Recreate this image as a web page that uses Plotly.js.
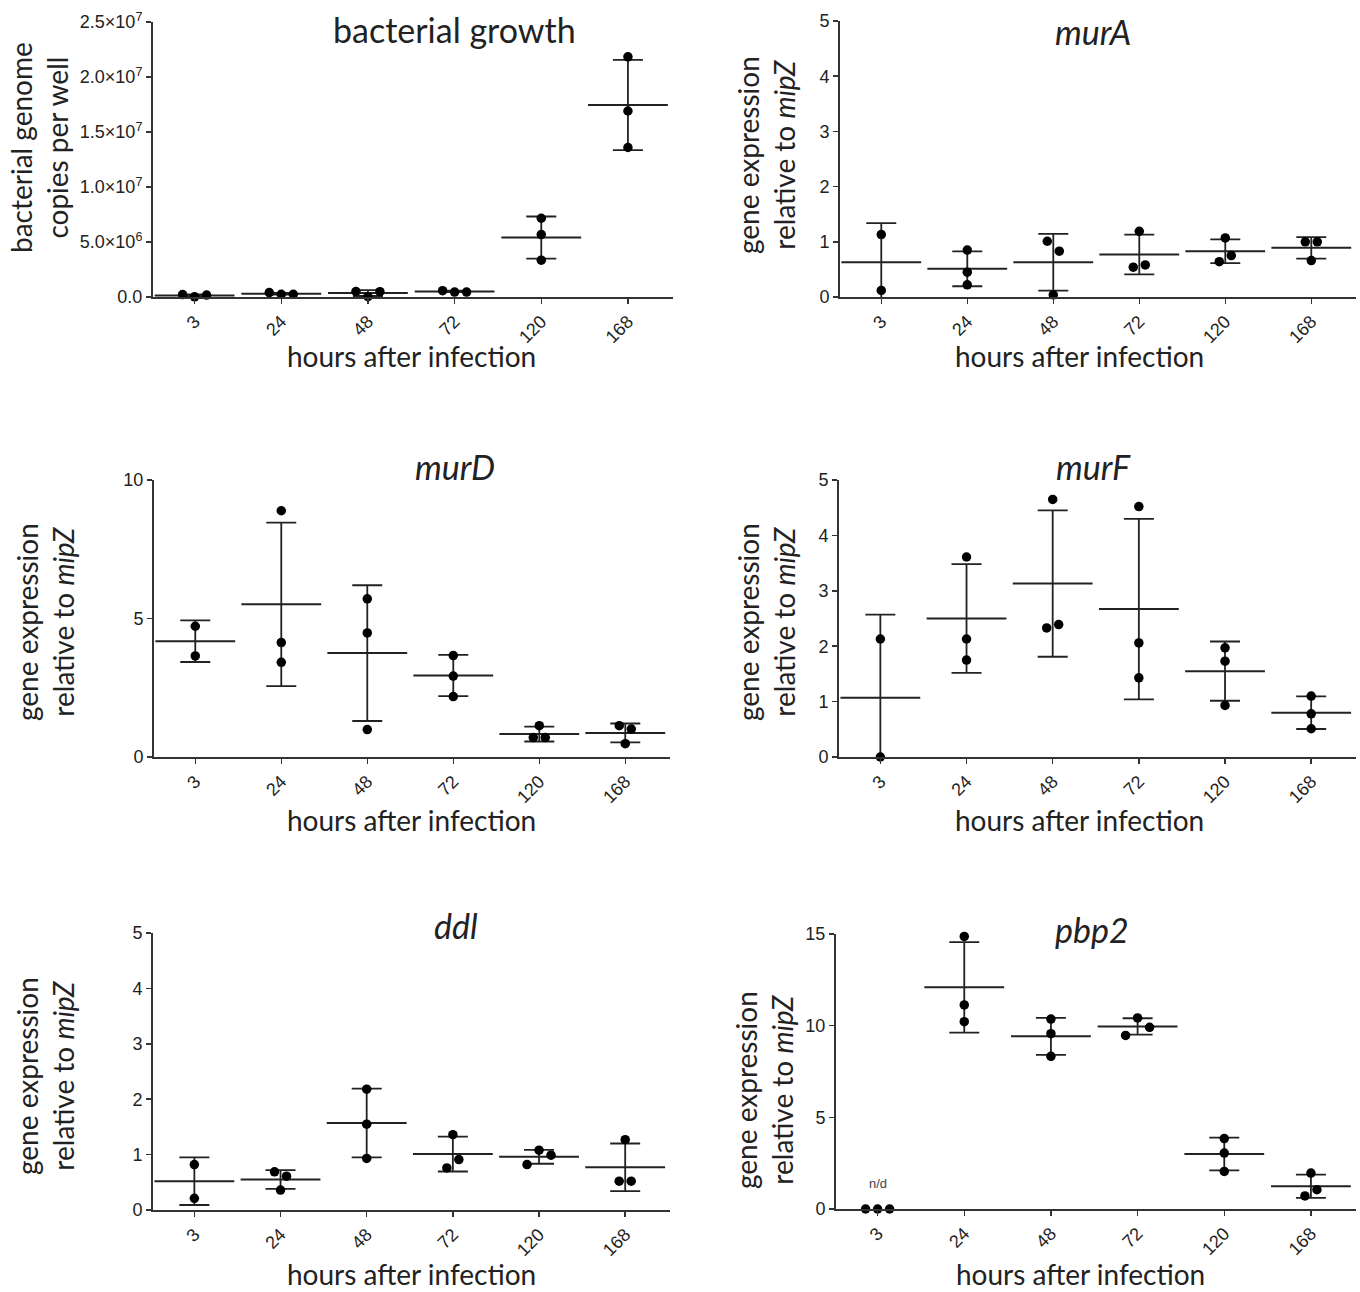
<!DOCTYPE html>
<html><head><meta charset="utf-8">
<script src="https://cdn.plot.ly/plotly-3.0.1.min.js"></script>
<style>html,body{margin:0;padding:0;background:#fff}#chart{width:1360px;height:1292px}</style>
</head><body><div id="chart"></div>
<script>
// ---------- data ----------
const hours = ['3','24','48','72','120','168'];

const growthPoints = [[2.2e5,0.2e5,1.8e5],[4.0e5,2.5e5,2.5e5],[5.0e5,0.3e5,4.8e5],[5.7e5,4.5e5,4.5e5],[7.16e6,5.68e6,3.35e6],[2.183e7,1.691e7,1.359e7]];
const growthMean = [1.4e5,3.0e5,3.6e5,5.1e5,5.4e6,1.745e7];
const growthSD   = [1.0e5,0.8e5,2.7e5,0.7e5,1.92e6,4.1e6];
const growthTicks = [0,5e6,1e7,1.5e7,2e7,2.5e7];
const growthTickText = ['0.0','5.0×10<sup>6</sup>','1.0×10<sup>7</sup>','1.5×10<sup>7</sup>','2.0×10<sup>7</sup>','2.5×10<sup>7</sup>'];

const murAPoints = [[1.13,0.12],[0.85,0.45,0.22],[1.01,0.83,0.04],[1.19,0.54,0.58],[1.07,0.64,0.75],[1.0,1.0,0.66]];
const murAMean = [0.63,0.51,0.63,0.77,0.83,0.89];
const murASD   = [0.71,0.315,0.515,0.36,0.215,0.195];

const murDPoints = [[4.72,3.65],[8.89,4.13,3.42],[5.71,4.48,0.99],[3.66,2.92,2.18],[1.13,0.70,0.70],[1.13,1.01,0.48]];
const murDMean = [4.18,5.51,3.75,2.94,0.83,0.87];
const murDSD   = [0.75,2.95,2.45,0.745,0.27,0.34];

const murFPoints = [[2.13,0.0],[3.61,2.13,1.75],[4.65,2.33,2.39],[4.52,2.06,1.43],[1.97,1.73,0.93],[1.10,0.78,0.51]];
const murFMean = [1.07,2.50,3.13,2.67,1.55,0.80];
const murFSD   = [1.5,0.98,1.32,1.63,0.535,0.295];

const ddlPoints = [[0.82,0.21],[0.69,0.61,0.36],[2.18,1.55,0.93],[1.36,0.76,0.91],[0.82,1.08,0.99],[1.27,0.52,0.52]];
const ddlMean = [0.52,0.55,1.57,1.01,0.96,0.77];
const ddlSD   = [0.43,0.17,0.62,0.315,0.125,0.43];

const pbp2Points = [[0,0,0],[14.87,11.13,10.22],[10.36,9.56,8.33],[9.47,10.42,9.91],[3.84,3.05,2.05],[1.96,0.71,1.05]];
const pbp2Mean = [null,12.09,9.42,9.96,3.0,1.24];
const pbp2SD   = [null,2.47,1.01,0.445,0.89,0.635];

const geneTicks5 = [0,1,2,3,4,5];
const geneTicks10 = [0,5,10];
const geneTicks15 = [0,5,10,15];

// ---------- layout ----------
const W = 1360, H = 1292;
const INK = '#222';
const TITLE_FONT = 'Lato, "Open Sans", sans-serif';
const TICK_FONT = '"Liberation Sans", Arial, sans-serif';
const geneY = ['gene expression','relative to <i>mipZ</i>'];

const panels = [
  {title:'bacterial growth', italic:false, pts:growthPoints, mean:growthMean, sd:growthSD, yr:[0,2.5e7], yt:growthTicks, ytt:growthTickText,
   box:[153,673,22,297], tpos:[455,29], ylab:['bacterial genome','copies per well'], ypos:[39,148], xpos:[411,356]},
  {title:'murA', italic:true, pts:murAPoints, mean:murAMean, sd:murASD, yr:[0,5], yt:geneTicks5, ytt:geneTicks5.map(String),
   box:[840,1356,21,297], tpos:[1093,32], ylab:geneY, ypos:[766,155], xpos:[1079,356]},
  {title:'murD', italic:true, pts:murDPoints, mean:murDMean, sd:murDSD, yr:[0,10], yt:geneTicks10, ytt:geneTicks10.map(String),
   box:[154,670,480,757], tpos:[455,467], ylab:geneY, ypos:[45,622], xpos:[411,820]},
  {title:'murF', italic:true, pts:murFPoints, mean:murFMean, sd:murFSD, yr:[0,5], yt:geneTicks5, ytt:geneTicks5.map(String),
   box:[839,1356,480,757], tpos:[1093,467], ylab:geneY, ypos:[766,622], xpos:[1079,820]},
  {title:'ddl', italic:true, pts:ddlPoints, mean:ddlMean, sd:ddlSD, yr:[0,5], yt:geneTicks5, ytt:geneTicks5.map(String),
   box:[153,670,933,1210], tpos:[456,925], ylab:geneY, ypos:[45,1076], xpos:[411,1274]},
  {title:'pbp2', italic:true, pts:pbp2Points, mean:pbp2Mean, sd:pbp2SD, yr:[0,15], yt:geneTicks15, ytt:geneTicks15.map(String),
   box:[836,1356,934,1209], tpos:[1092,929], ylab:geneY, ypos:[764,1090], xpos:[1080,1274], note:{cat:0, text:'n/d', y:1183}}
];

const XR = [-0.48, 5.52];
const THR = 11;   // px: points closer than this are spread sideways
const GAP = 12;   // px between side-by-side points

function spread(vals, pxPerUnit, step) {
  const idx = vals.map((v,i)=>i).sort((a,b)=>vals[b]-vals[a]);
  const clusters = []; let cur = [idx[0]];
  for (let k=1;k<idx.length;k++){
    if ((vals[idx[k-1]]-vals[idx[k]])*pxPerUnit < THR) cur.push(idx[k]);
    else { clusters.push(cur); cur=[idx[k]]; }
  }
  clusters.push(cur);
  const off = new Array(vals.length).fill(0);
  clusters.forEach(c=>{ c.sort((a,b)=>a-b); c.forEach((i,j)=>{ off[i]=(j-(c.length-1)/2)*step; }); });
  return off;
}

const data = [];
const layout = {width:W, height:H, margin:{l:0,r:0,t:0,b:0}, paper_bgcolor:'#fff', plot_bgcolor:'rgba(0,0,0,0)',
  showlegend:false, annotations:[]};
const px = (x)=>x/W, py = (y)=>1-y/H;

panels.forEach((p,k)=>{
  const n = k===0 ? '' : String(k+1);
  const xa = 'x'+n, ya = 'y'+n;
  const [l,r,t,b] = p.box;
  const pxCat = (r-l)/(XR[1]-XR[0]);
  const pxUnit = (b-t)/(p.yr[1]-p.yr[0]);
  const cats = hours.map((h,i)=>i);

  // mean + SD
  data.push({type:'scatter', mode:'markers', xaxis:xa, yaxis:ya, x:cats, y:p.mean, cliponaxis:true, hoverinfo:'skip',
    marker:{symbol:'line-ew', size:57, color:INK, line:{color:INK, width:2}},
    error_y:{type:'data', array:p.sd, symmetric:true, visible:true, color:INK, thickness:1.8, width:15}});
  // individual points
  const xs=[], ys=[];
  p.pts.forEach((vals,i)=>{
    const off = spread(vals, pxUnit, GAP/pxCat);
    vals.forEach((v,j)=>{ xs.push(i+off[j]); ys.push(v); });
  });
  data.push({type:'scatter', mode:'markers', xaxis:xa, yaxis:ya, x:xs, y:ys, cliponaxis:false, hoverinfo:'skip',
    marker:{symbol:'circle', size:9.5, color:'#000', line:{width:0}}});

  layout['xaxis'+n] = {domain:[px(l),px(r)], anchor:ya, range:XR, tickvals:cats, ticktext:hours, tickangle:-45,
    showline:true, linecolor:'#333', linewidth:2, ticks:'outside', ticklen:5, tickwidth:1.5, tickcolor:'#333',
    showgrid:false, zeroline:false, tickfont:{family:TICK_FONT, size:18, color:'#222'}, fixedrange:true};
  layout['yaxis'+n] = {domain:[py(b),py(t)], anchor:xa, range:p.yr, tickvals:p.yt, ticktext:p.ytt,
    showline:true, linecolor:'#333', linewidth:2, ticks:'outside', ticklen:5, tickwidth:1.5, tickcolor:'#333',
    showgrid:false, zeroline:false, tickfont:{family:TICK_FONT, size:18, color:'#222'}, fixedrange:true};

  const A = layout.annotations;
  A.push({xref:'paper', yref:'paper', x:px(p.tpos[0]), y:py(p.tpos[1]), xanchor:'center', yanchor:'middle', showarrow:false,
    text: p.italic ? '<i>'+p.title+'</i>' : p.title, font:{family:TITLE_FONT, size:34, color:INK}});
  A.push({xref:'paper', yref:'paper', x:px(p.xpos[0]), y:py(p.xpos[1]), xanchor:'center', yanchor:'middle', showarrow:false,
    text:'hours after infection', font:{family:TITLE_FONT, size:28, color:INK}});
  A.push({xref:'paper', yref:'paper', x:px(p.ypos[0]), y:py(p.ypos[1]), xanchor:'center', yanchor:'middle', showarrow:false,
    textangle:-90, text:p.ylab.join('<br>'), font:{family:TITLE_FONT, size:28, color:INK}});
  if (p.note){
    A.push({xref:xa, yref:'paper', x:p.note.cat, y:py(p.note.y), xanchor:'center', yanchor:'middle', showarrow:false,
      text:p.note.text, font:{family:TICK_FONT, size:13, color:'#444'}});
  }
});

Plotly.newPlot('chart', data, layout, {displayModeBar:false, staticPlot:true});
</script>
</body></html>
